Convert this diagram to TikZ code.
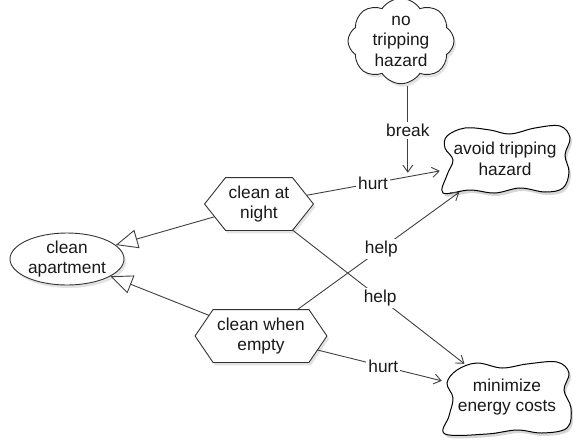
\documentclass[tikz,border=0pt]{standalone}
\usepackage{fontspec}
\setmainfont{Liberation Sans}
\usetikzlibrary{shapes.geometric,shapes.symbols,arrows.meta,shadows}
\makeatletter
\pgfkeys{/pgf/hex depth/.initial=20pt}
\pgfdeclareshape{hexbox}{
  \inheritsavedanchors[from=rectangle]
  \inheritanchor[from=rectangle]{center}
  \inheritanchor[from=rectangle]{north}
  \inheritanchor[from=rectangle]{south}
  \inheritanchor[from=rectangle]{east}
  \inheritanchor[from=rectangle]{west}
  \inheritanchor[from=rectangle]{text}
  \inheritanchor[from=rectangle]{mid}
  \inheritanchor[from=rectangle]{base}
  \savedmacro\hexdepth{\edef\hexdepth{\pgfkeysvalueof{/pgf/hex depth}}}
  \backgroundpath{
    \southwest \edef\hexL{\the\pgf@x}\edef\hexB{\the\pgf@y}
    \northeast \edef\hexR{\the\pgf@x}\edef\hexT{\the\pgf@y}
    \pgfmathsetmacro\hexM{(\hexB+\hexT)/2}
    \pgfmathsetmacro\hexIL{\hexL+\hexdepth}
    \pgfmathsetmacro\hexIR{\hexR-\hexdepth}
    \pgfpathmoveto{\pgfpoint{\hexL}{\hexM pt}}
    \pgfpathlineto{\pgfpoint{\hexIL pt}{\hexT}}
    \pgfpathlineto{\pgfpoint{\hexIR pt}{\hexT}}
    \pgfpathlineto{\pgfpoint{\hexR}{\hexM pt}}
    \pgfpathlineto{\pgfpoint{\hexIR pt}{\hexB}}
    \pgfpathlineto{\pgfpoint{\hexIL pt}{\hexB}}
    \pgfpathclose
  }
  \anchorborder{
    \edef\hexdx{\the\pgf@x}\edef\hexdy{\the\pgf@y}
    \southwest \edef\hexL{\the\pgf@x}\edef\hexB{\the\pgf@y}
    \northeast \edef\hexR{\the\pgf@x}\edef\hexT{\the\pgf@y}
    \pgfmathsetmacro\hexA{(\hexR-\hexL)/2}
    \pgfmathsetmacro\hexHB{(\hexT-\hexB)/2}
    \pgfmathsetmacro\hexCX{(\hexR+\hexL)/2}
    \pgfmathsetmacro\hexCY{(\hexT+\hexB)/2}
    \pgfmathsetmacro\hexD{\hexdepth}
    \pgfmathsetmacro\hexLen{max(veclen(\hexdx,\hexdy),0.001)}
    \pgfmathsetmacro\hexUX{\hexdx/\hexLen}
    \pgfmathsetmacro\hexUY{\hexdy/\hexLen}
    \pgfmathsetmacro\hexTT{min(\hexHB/(abs(\hexUY)+0.01), \hexA/(abs(\hexUX)+(\hexD/\hexHB)*abs(\hexUY)+0.001))}
    \pgfmathsetmacro\hexX{\hexCX+\hexTT*\hexUX}
    \pgfmathsetmacro\hexY{\hexCY+\hexTT*\hexUY}
    \pgf@x=\hexX pt
    \pgf@y=\hexY pt
  }
}
\makeatother
\begin{document}
\begin{tikzpicture}[x=1pt,y=-1pt,
  every node/.style={font=\fontsize{17.3}{20.5}\selectfont, align=center, text=black!90},
  shad/.style={drop shadow={opacity=0.22, shadow xshift=2pt, shadow yshift=-3pt}},
  ell/.style={ellipse, draw=black!80, line width=0.9pt, fill=white, minimum width=114pt, minimum height=52pt, inner sep=0pt, shad},
  hexa/.style={shape=hexbox, draw=black!80, line width=0.9pt, fill=white, minimum height=52pt, inner sep=0pt, shad},
  cloudy/.style={cloud, cloud puffs=8, cloud puff arc=115, aspect=1.3, draw=black!85, line width=0.9pt, fill=white, minimum width=106pt, minimum height=77pt, inner sep=0pt, shad},
  softgoal/.style={rectangle, minimum width=130pt, minimum height=66pt, inner sep=0pt},
  blob/.style={draw=black, line width=1pt, fill=white},
  blobshadow/.style={fill=black, opacity=0.16},
  link/.style={draw=black!75, line width=0.9pt},
  contrib/.style={link, -{Straight Barb[length=7pt,width=10pt]}},
  isa/.style={link, -{Triangle[open,length=22pt,width=19pt,fill=white]}},
  lbl/.style={fill=white, inner sep=2pt}
]
\useasboundingbox (0,0) rectangle (573,440);

% soft goal blobs
\begin{scope}[shift={(505,160)}]
  \fill[blobshadow, shift={(2,3)}] plot[smooth cycle, tension=0.6] coordinates {(-58,-24) (-40,-32) (-15,-30) (5,-26) (30,-32) (55,-34) (65,-22) (60,-5) (64,12) (58,28) (40,32) (15,28) (-10,33) (-35,30) (-62,33) (-58,15) (-52,0) (-60,-12)};
  \draw[blob] plot[smooth cycle, tension=0.6] coordinates {(-58,-24) (-40,-32) (-15,-30) (5,-26) (30,-32) (55,-34) (65,-22) (60,-5) (64,12) (58,28) (40,32) (15,28) (-10,33) (-35,30) (-62,33) (-58,15) (-52,0) (-60,-12)};
\end{scope}
\begin{scope}[shift={(507,398)}]
  \fill[blobshadow, shift={(2,3)}] plot[smooth cycle, tension=0.6] coordinates {(-50,-28) (-30,-35) (-5,-30) (20,-34) (50,-36) (62,-25) (57,-8) (64,10) (60,30) (35,35) (10,32) (-20,36) (-62,36) (-58,18) (-54,0) (-60,-15)};
  \draw[blob] plot[smooth cycle, tension=0.6] coordinates {(-50,-28) (-30,-35) (-5,-30) (20,-34) (50,-36) (62,-25) (57,-8) (64,10) (60,30) (35,35) (10,32) (-20,36) (-62,36) (-58,18) (-54,0) (-60,-15)};
\end{scope}

\node[softgoal] (ath) at (505,159) {avoid tripping\\hazard};
\node[softgoal] (min) at (507,397) {minimize\\energy costs};
\node[cloudy] (nth) at (401,41) {no\\tripping\\hazard};
\node[ell] (ap) at (67,259) {clean\\apartment};
\node[hexa, hex depth=21pt, minimum width=108pt] (can) at (259,204) {clean at\\night};
\node[hexa, hex depth=18pt, minimum width=131pt] (cwe) at (261,336) {clean when\\empty};

\draw[isa] (can) -- (ap);
\draw[isa] (cwe) -- (ap);
\draw[contrib] (can) -- node[lbl]{hurt} coordinate[pos=0.76] (hurtpt) (ath);
\draw[contrib, shorten <=2pt, shorten >=4pt] (nth.south -| hurtpt) -- node[lbl]{break} (hurtpt);
\draw[contrib] (cwe) -- node[lbl, pos=0.52]{help} (ath);
\draw[contrib] (can) -- node[lbl, pos=0.51]{help} (min);
\draw[contrib] (cwe) -- node[lbl, pos=0.53]{hurt} (min);
\end{tikzpicture}
\end{document}
